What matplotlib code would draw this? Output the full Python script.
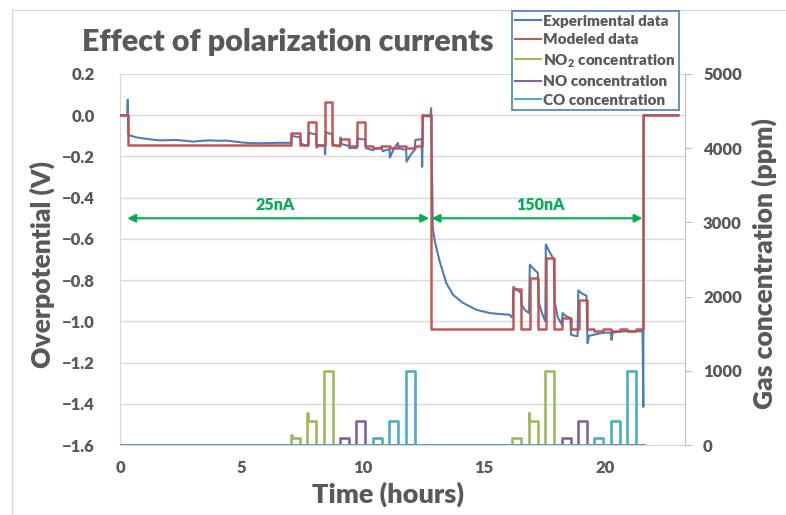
import matplotlib
matplotlib.use("Agg")
import matplotlib.pyplot as plt
from matplotlib.patches import Rectangle

plt.rcParams['font.family'] = ['Lato', 'DejaVu Sans']
plt.rcParams['font.weight'] = 'heavy'
plt.rcParams['mathtext.fontset'] = 'custom'
plt.rcParams['mathtext.rm'] = 'Lato:heavy'
plt.rcParams['mathtext.bf'] = 'Lato:heavy'

# ---------------- data ----------------
exp_t = [0.00, 0.30, 0.32, 0.34, 0.40, 0.70, 1.00, 1.30, 1.65, 2.00, 2.33, 2.70, 3.02, 3.40,
         3.71, 4.05, 4.39, 4.75, 5.08, 5.40, 5.77, 6.10, 6.45, 7.05,
         7.08, 7.25, 7.43, 7.46, 7.60, 7.75, 7.78, 7.95, 8.08, 8.11, 8.20, 8.44,
         8.46, 8.48, 8.62, 8.75, 8.78, 8.95, 9.08, 9.10, 9.14, 9.30, 9.43, 9.46,
         9.60, 9.76, 9.79, 9.95, 10.11, 10.14, 10.30, 10.44, 10.47, 10.60, 10.80,
         10.83, 11.00, 11.11, 11.13, 11.30, 11.46, 11.49, 11.65, 11.80, 11.82,
         12.00, 12.15, 12.18, 12.30, 12.44, 12.46, 12.50, 12.60, 12.80, 12.83,
         12.90, 12.98, 13.19, 13.46, 13.73, 14.15, 14.70, 15.25, 15.70, 16.07,
         16.15, 16.20, 16.22, 16.35, 16.53, 16.56, 16.70, 16.87, 16.90, 17.05,
         17.23, 17.26, 17.40, 17.54, 17.56, 17.70, 17.89, 17.92, 18.05, 18.23,
         18.25, 18.40, 18.57, 18.60, 18.75, 18.87, 18.90, 19.05, 19.24, 19.28,
         19.35, 19.55, 19.80, 20.00, 20.25, 20.27, 20.32, 20.60, 20.95, 21.30,
         21.55, 21.58, 21.60, 22.00, 23.00]
exp_v = [0.000, 0.000, 0.075, -0.090, -0.098, -0.108, -0.113, -0.118, -0.122, -0.121, -0.120,
         -0.124, -0.128, -0.124, -0.122, -0.124, -0.123, -0.128, -0.133, -0.135, -0.136,
         -0.135, -0.134, -0.134,
         -0.100, -0.104, -0.106, -0.138, -0.144, -0.148, -0.085, -0.090, -0.092, -0.158,
         -0.145, -0.150, -0.190, -0.082, -0.088, -0.092, -0.140, -0.150, -0.152, -0.108,
         -0.140, -0.145, -0.148, -0.160, -0.158, -0.160, -0.112, -0.116, -0.118, -0.160,
         -0.165, -0.170, -0.165, -0.160, -0.158, -0.175, -0.168, -0.165, -0.205, -0.160,
         -0.135, -0.160, -0.165, -0.168, -0.225, -0.190, -0.168, -0.120, -0.118, -0.115,
         -0.250, 0.000, -0.005, -0.005, 0.034,
         -0.545, -0.611, -0.712, -0.815, -0.871, -0.911, -0.944, -0.960, -0.965, -0.968,
         -0.980, -0.970, -0.833, -0.845, -0.862, -0.919, -0.945, -0.960, -0.725, -0.745,
         -0.765, -0.903, -0.960, -1.000, -0.627, -0.660, -0.700, -0.903, -0.980, -1.017,
         -0.960, -0.975, -0.984, -1.065, -1.070, -1.072, -0.850, -0.865, -0.876, -1.106,
         -1.070, -1.065, -1.058, -1.055, -1.055, -1.090, -1.055, -1.050, -1.048, -1.048,
         -1.049, -1.415, 0.000, 0.000, 0.000]

mod_t = [0.00, 0.34, 7.07, 7.44, 7.76, 8.10, 8.45, 8.76, 9.09, 9.44, 9.77, 10.12, 10.44,
         10.78, 11.12, 11.47, 11.81, 12.15, 12.47, 12.84, 16.21, 16.55, 16.89, 17.24,
         17.55, 17.90, 18.24, 18.58, 18.91, 19.25, 19.56, 19.93, 20.24, 20.60, 20.92,
         21.29, 21.56, 23.00]
mod_v = [0.000, -0.145, -0.088, -0.145, -0.031, -0.145, 0.065, -0.145, -0.115, -0.148,
         -0.032, -0.149, -0.159, -0.149, -0.159, -0.149, -0.159, -0.149, 0.000, -1.037,
         -0.841, -1.037, -0.790, -1.037, -0.693, -1.037, -0.986, -1.037, -0.898, -1.037,
         -1.048, -1.037, -1.048, -1.037, -1.048, -1.037, 0.000, 0.000]

no2_t = [0.00, 7.07, 7.08, 7.44, 7.73, 7.75, 8.10, 8.42, 8.79, 16.18, 16.55, 16.86, 16.88,
         17.24, 17.52, 17.90, 21.60]
no2_c = [0, 130, 100, 0, 430, 330, 0, 1000, 0, 100, 0, 430, 330, 0, 1000, 0, 0]

no_t = [0.00, 9.09, 9.44, 9.75, 10.12, 18.22, 18.58, 18.88, 19.25, 21.60]
no_c = [0, 100, 0, 330, 0, 100, 0, 330, 0, 0]

co_t = [0.00, 10.45, 10.81, 11.11, 11.48, 11.80, 12.17, 19.56, 19.93, 20.24, 20.60,
        20.92, 21.29, 21.60]
co_c = [0, 100, 0, 330, 0, 1000, 0, 100, 0, 330, 0, 1000, 0, 0]

left_ticks = [-1.6, -1.4, -1.2, -1.0, -0.8, -0.6, -0.4, -0.2, 0.0, 0.2]
left_labels = ['\u22121.6', '\u22121.4', '\u22121.2', '\u22121.0', '\u22120.8',
               '\u22120.6', '\u22120.4', '\u22120.2', '0.0', '0.2']
right_ticks = [0, 1000, 2000, 3000, 4000, 5000]
x_ticks = [0, 5, 10, 15, 20]

# ---------------- figure ----------------
W, H = 786, 515
fig = plt.figure(figsize=(W / 100, H / 100), dpi=100)
fig.patches.append(Rectangle((12 / W, -0.1), 1.2, 1 - 10 / H + 0.1, transform=fig.transFigure,
                             fill=False, edgecolor='#D9D9D9', lw=1.0, zorder=0))

ax = fig.add_axes([120 / W, 1 - 445 / H, (685 - 120) / W, (445 - 74) / H])
ax2 = ax.twinx()

gray = '#595959'
grid_c = '#D9D9D9'

ax.plot(exp_t, exp_v, color='#4A7EBB', lw=1.5, zorder=3, label='Experimental data')
ax.plot(mod_t, mod_v, color='#C0504D', lw=1.8, drawstyle='steps-post', zorder=4,
        alpha=0.95, label='Modeled data')
ax2.plot(no2_t, no2_c, color='#9BBB59', lw=1.9, drawstyle='steps-post',
         label=r'NO$_{2}$ concentration')
ax2.plot(no_t, no_c, color='#8064A2', lw=1.9, drawstyle='steps-post', label='NO concentration')
ax2.plot(co_t, co_c, color='#4BACC6', lw=1.9, drawstyle='steps-post', label='CO concentration')

ax.set_xlim(0, 23.3)
ax.set_ylim(-1.6, 0.2)
ax2.set_ylim(0, 5000)

ax.set_yticks(left_ticks)
ax.set_yticklabels(left_labels)
ax.set_xticks(x_ticks)
ax2.set_yticks(right_ticks)

ax.set_axisbelow(True)
ax.yaxis.grid(True, color=grid_c, lw=1.0)
ax.xaxis.grid(False)

ax.spines['top'].set_visible(False)
ax2.spines['top'].set_visible(False)
ax.spines['left'].set_color(grid_c)
ax.spines['bottom'].set_color(grid_c)
ax.spines['right'].set_visible(False)
ax2.spines['left'].set_visible(False)
ax2.spines['bottom'].set_visible(False)
ax2.spines['right'].set_color('#BFBFBF')

ax.tick_params(axis='y', length=0, pad=18, labelsize=12, labelcolor=gray)
ax.tick_params(axis='x', length=0, pad=11, labelsize=12, labelcolor=gray)
ax2.tick_params(axis='y', length=5, width=0.8, color='#BFBFBF', pad=8, labelsize=12,
                labelcolor=gray)

# titles / labels
fig.text(82 / W, 1 - 42 / H, 'Effect of polarization currents', fontsize=22, color=gray,
         fontweight='heavy', ha='left', va='center')
fig.text(42 / W, 1 - 264 / H, 'Overpotential (V)', fontsize=19, color=gray,
         fontweight='heavy', rotation=90, ha='center', va='center')
fig.text(764 / W, 1 - 264 / H, 'Gas concentration (ppm)', fontsize=19, color=gray,
         fontweight='heavy', rotation=90, ha='center', va='center')
fig.text(388 / W, 1 - 494 / H, 'Time (hours)', fontsize=19.5, color=gray,
         fontweight='heavy', ha='center', va='center')

# current arrows
green = '#00B050'
ax.annotate('', xy=(12.75, -0.5), xytext=(0.3, -0.5),
            arrowprops=dict(arrowstyle='<|-|>', color=green, lw=1.5, mutation_scale=12,
                            shrinkA=0, shrinkB=0))
ax.annotate('', xy=(21.55, -0.5), xytext=(12.85, -0.5),
            arrowprops=dict(arrowstyle='<|-|>', color=green, lw=1.5, mutation_scale=12,
                            shrinkA=0, shrinkB=0))
ax.text(6.4, -0.435, '25nA', color=green, fontsize=11.5, fontweight='heavy', ha='center',
        va='center')
ax.text(17.35, -0.435, '150nA', color=green, fontsize=11.5, fontweight='heavy', ha='center',
        va='center')

h1, l1 = ax.get_legend_handles_labels()
h2, l2 = ax2.get_legend_handles_labels()
leg = fig.legend(h1 + h2, l1 + l2, loc='upper right', bbox_to_anchor=(679 / W, 1 - 11 / H),
                 frameon=True, fancybox=False, edgecolor='#4A7EBB', framealpha=1,
                 prop={'weight': 'heavy', 'size': 11}, handlelength=1.7, handletextpad=0.1,
                 borderpad=0.25, labelspacing=0.36, borderaxespad=0)
leg.get_frame().set_linewidth(1.2)
for t in leg.get_texts():
    t.set_color(gray)
for l in leg.get_lines():
    l.set_linewidth(1.5)

fig.savefig('out.png', dpi=100)
